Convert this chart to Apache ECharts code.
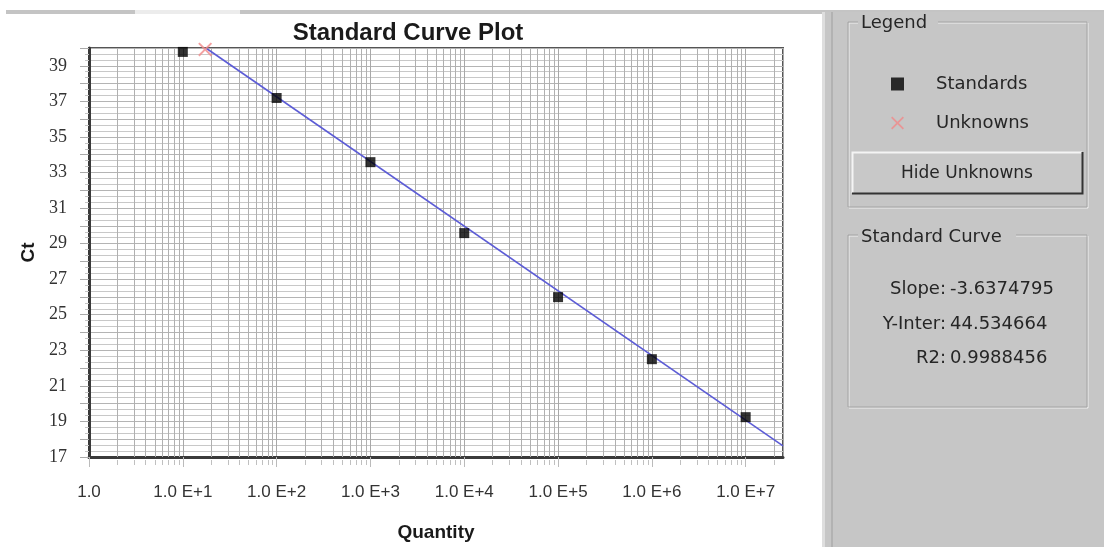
<!DOCTYPE html>
<html>
<head>
<meta charset="utf-8">
<script src="https://cdn.jsdelivr.net/npm/echarts@6/dist/echarts.min.js"></script>
<style>
html,body{margin:0;padding:0;background:#fff;}
#chart{width:1104px;height:547px;}
</style>
</head>
<body>
<div id="chart"></div>
<script>
// ---- data ----
const standardsQty = [10, 100, 1000, 10000, 100000, 1000000, 10000000];
const standardsCt  = [39.78, 37.19, 33.58, 29.59, 25.99, 22.50, 19.24];
const unknownsQty  = [17.3];
const unknownsCt   = [39.92];
const fitLineQty   = [17.6, 25000000];
const fitLineCt    = [40.0, 17.63];
const xTickLabels  = ['1.0', '1.0 E+1', '1.0 E+2', '1.0 E+3', '1.0 E+4', '1.0 E+5', '1.0 E+6', '1.0 E+7'];
const yTickLabels  = ['17', '19', '21', '23', '25', '27', '29', '31', '33', '35', '37', '39'];
const statLabels   = ['Slope:', 'Y-Inter:', 'R2:'];
const statValues   = ['-3.6374795', '44.534664', '0.9988456'];
const xMin = 1, xMax = 25000000, yMin = 17, yMax = 40;

// minor (2..9) positions of the log axis
const minorX = [];
for (let e = 0; e < 8; e++) {
  for (let k = 2; k <= 9; k++) {
    const v = k * Math.pow(10, e);
    if (v < xMax) minorX.push([v, yMin]);
  }
}

const zip = (a, b) => a.map((v, i) => [v, b[i]]);
const xPath = 'path://M0,1 L1,0 L5,4 L9,0 L10,1 L6,5 L10,9 L9,10 L5,6 L1,10 L0,9 L4,5 Z';
const panelFont = 'DejaVu Sans';
const panelColor = '#262626';

const chart = echarts.init(document.getElementById('chart'), null, {renderer: 'canvas'});

const option = {
  backgroundColor: '#ffffff',
  animation: false,
  title: {
    text: 'Standard Curve Plot',
    left: 408, top: 21, textAlign: 'center', padding: 0,
    textStyle: {fontFamily: 'Liberation Sans', fontWeight: 'bold', fontSize: 24, color: '#1a1a1a'}
  },
  legend: {
    orient: 'vertical',
    left: 886, top: 69,
    itemWidth: 13, itemHeight: 13, itemGap: 19,
    data: [
      {name: 'Standards', icon: 'rect'},
      {name: 'Unknowns', icon: xPath}
    ],
    textStyle: {fontFamily: panelFont, fontSize: 18, color: panelColor, lineHeight: 20, padding: [0, 0, 0, 27]},
    selectedMode: false
  },
  grid: {
    left: 89, top: 48, width: 694, height: 411,
    show: true, borderColor: '#555', borderWidth: 2, backgroundColor: 'transparent',
    containLabel: false
  },
  xAxis: {
    type: 'log', logBase: 10, min: xMin, max: xMax,
    name: 'Quantity', nameLocation: 'middle', nameGap: 66,
    nameTextStyle: {fontFamily: 'Liberation Sans', fontWeight: 'bold', fontSize: 19, color: '#1a1a1a'},
    axisLine: {show: true, lineStyle: {color: '#3a3a3a', width: 3}},
    axisTick: {show: true, length: 10, lineStyle: {color: '#bbbbbb'}},
    axisLabel: {
      show: true, margin: 27, fontFamily: 'Liberation Sans', fontSize: 17, color: '#333',
      showMaxLabel: false,
      formatter: function (v) {
        const e = Math.round(Math.log10(v));
        return Math.abs(Math.pow(10, e) - v) < 1e-6 * v ? (xTickLabels[e] || '') : '';
      }
    },
    splitLine: {show: true, lineStyle: {color: '#a8a8a8', width: 1}},
    minorTick: {show: false}, minorSplitLine: {show: false}
  },
  yAxis: {
    type: 'value', min: yMin, max: yMax, interval: 1,
    name: 'Ct', nameLocation: 'middle', nameGap: 50, nameRotate: 90,
    nameTextStyle: {fontFamily: 'Liberation Sans', fontWeight: 'bold', fontSize: 19, color: '#1a1a1a'},
    axisLine: {show: true, lineStyle: {color: '#3a3a3a', width: 3}},
    axisTick: {show: true, length: 9, lineStyle: {color: '#aaaaaa'}},
    minorTick: {show: true, splitNumber: 3, length: 4, lineStyle: {color: '#c4c4c4'}},
    axisLabel: {
      show: true, margin: 22, fontFamily: 'Liberation Sans Narrow', fontSize: 18, color: '#333',
      formatter: function (v) { return yTickLabels.indexOf(String(v)) >= 0 ? String(v) : ''; }
    },
    splitLine: {show: true, lineStyle: {color: '#b4b4b4', width: 1}},
    minorSplitLine: {show: true, lineStyle: {color: '#c8c8c8', width: 1}}
  },
  series: [
    {
      name: 'minorGrid', type: 'custom', silent: true, z: 1, clip: false,
      data: minorX,
      renderItem: function (params, api) {
        const v = api.value(0);
        const top = api.coord([v, yMax]);
        const bot = api.coord([v, yMin]);
        const x = Math.round(top[0]) + 0.5;
        return {
          type: 'group',
          children: [
            {type: 'line', shape: {x1: x, y1: top[1], x2: x, y2: bot[1]}, style: {stroke: '#b0b0b0', lineWidth: 1}},
            {type: 'line', shape: {x1: x, y1: bot[1] + 3, x2: x, y2: bot[1] + 8}, style: {stroke: '#c0c0c0', lineWidth: 1}}
          ]
        };
      }
    },
    {
      name: 'Standard Curve', type: 'line', z: 3,
      data: zip(fitLineQty, fitLineCt),
      symbol: 'none', lineStyle: {color: '#5c5cd6', width: 1.6},
      silent: true
    },
    {
      name: 'Standards', type: 'scatter', z: 5,
      data: zip(standardsQty, standardsCt),
      symbol: 'rect', symbolSize: 10,
      itemStyle: {color: '#000000'}
    },
    {
      name: 'Unknowns', type: 'scatter', z: 4, clip: true,
      data: zip(unknownsQty, unknownsCt),
      symbol: xPath, symbolSize: 14,
      itemStyle: {color: '#f08a8a'}
    }
  ],
  graphic: [
    // top strip
    {type: 'rect', silent: true, z: -10, shape: {x: 6, y: 10, width: 1098, height: 4}, style: {fill: '#c4c4c4'}},
    {type: 'rect', silent: true, z: -9, shape: {x: 135, y: 10, width: 105, height: 4}, style: {fill: '#ececec'}},
    // right panel
    {type: 'rect', silent: true, z: -8, shape: {x: 822, y: 12, width: 282, height: 535}, style: {fill: '#c6c6c6'}},
    {type: 'rect', silent: true, z: -7, shape: {x: 822, y: 12, width: 3, height: 535}, style: {fill: '#dedede'}},
    {type: 'rect', silent: true, z: -7, shape: {x: 831, y: 12, width: 2, height: 535}, style: {fill: '#b2b2b2'}},
    // legend group box
    {type: 'rect', silent: true, z: -6, shape: {x: 849, y: 23, width: 239, height: 185}, style: {fill: 'none', stroke: '#f0f0f0', lineWidth: 1}},
    {type: 'rect', silent: true, z: -6, shape: {x: 848, y: 22, width: 239, height: 185}, style: {fill: 'none', stroke: '#a4a4a4', lineWidth: 1}},
    {type: 'rect', silent: true, z: -5, shape: {x: 858, y: 12, width: 80, height: 20}, style: {fill: '#c6c6c6'}},
    {type: 'text', silent: true, z: 10, style: {x: 861, y: 23, text: 'Legend', fontFamily: panelFont, fontSize: 18, fill: panelColor, verticalAlign: 'middle'}},
    // button
    {type: 'rect', silent: true, z: -4, shape: {x: 852, y: 152, width: 231, height: 42}, style: {fill: '#c8c8c8', stroke: null}},
    {type: 'polyline', silent: true, z: -3, shape: {points: [[852.5, 193], [852.5, 152.5], [1082, 152.5]]}, style: {stroke: '#f4f4f4', lineWidth: 2}},
    {type: 'polyline', silent: true, z: -3, shape: {points: [[852, 193.5], [1082.5, 193.5], [1082.5, 152]]}, style: {stroke: '#333333', lineWidth: 2}},
    {type: 'text', silent: true, z: 10, style: {x: 967, y: 174, text: 'Hide Unknowns', fontFamily: panelFont, fontSize: 17, fill: panelColor, align: 'center', verticalAlign: 'middle'}},
    // standard curve group box
    {type: 'rect', silent: true, z: -6, shape: {x: 849, y: 236, width: 239, height: 172}, style: {fill: 'none', stroke: '#f0f0f0', lineWidth: 1}},
    {type: 'rect', silent: true, z: -6, shape: {x: 848, y: 235, width: 239, height: 172}, style: {fill: 'none', stroke: '#a4a4a4', lineWidth: 1}},
    {type: 'rect', silent: true, z: -5, shape: {x: 858, y: 226, width: 158, height: 20}, style: {fill: '#c6c6c6'}},
    {type: 'text', silent: true, z: 10, style: {x: 861, y: 237, text: 'Standard Curve', fontFamily: panelFont, fontSize: 18, fill: panelColor, verticalAlign: 'middle'}},
    {type: 'text', silent: true, z: 10, style: {x: 946, y: 289, text: statLabels[0], fontFamily: panelFont, fontSize: 18, fill: panelColor, align: 'right', verticalAlign: 'middle'}},
    {type: 'text', silent: true, z: 10, style: {x: 950, y: 289, text: statValues[0], fontFamily: panelFont, fontSize: 18, fill: panelColor, align: 'left', verticalAlign: 'middle'}},
    {type: 'text', silent: true, z: 10, style: {x: 946, y: 324, text: statLabels[1], fontFamily: panelFont, fontSize: 18, fill: panelColor, align: 'right', verticalAlign: 'middle'}},
    {type: 'text', silent: true, z: 10, style: {x: 950, y: 324, text: statValues[1], fontFamily: panelFont, fontSize: 18, fill: panelColor, align: 'left', verticalAlign: 'middle'}},
    {type: 'text', silent: true, z: 10, style: {x: 946, y: 358, text: statLabels[2], fontFamily: panelFont, fontSize: 18, fill: panelColor, align: 'right', verticalAlign: 'middle'}},
    {type: 'text', silent: true, z: 10, style: {x: 950, y: 358, text: statValues[2], fontFamily: panelFont, fontSize: 18, fill: panelColor, align: 'left', verticalAlign: 'middle'}}
  ]
};
chart.setOption(option);
</script>
</body>
</html>
